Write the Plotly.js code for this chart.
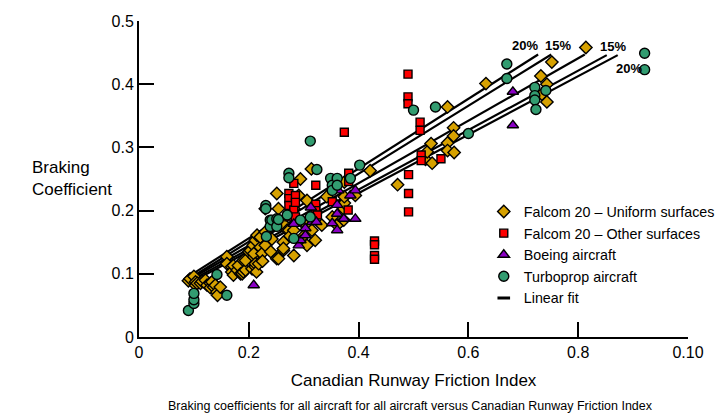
<!DOCTYPE html>
<html>
<head>
<meta charset="utf-8">
<script src="https://cdn.plot.ly/plotly-3.0.1.min.js"></script>
<style>html,body{margin:0;padding:0;background:#fff;}#chart{width:720px;height:414px;}</style>
</head>
<body>
<div id="chart"></div>
<script>
// ---------- data ----------
var xTickVals = [0, 0.2, 0.4, 0.6, 0.8, 1.0];
var xTickText = ['0', '0.2', '0.4', '0.6', '0.8', '0.10'];
var yTickVals = [0, 0.1, 0.2, 0.3, 0.4, 0.5];
var yTickText = ['0', '0.1', '0.2', '0.3', '0.4', '0.5'];

var seriesNames = ['Falcom 20 \u2013 Uniform surfaces', 'Falcom 20 \u2013 Other surfaces', 'Boeing aircraft', 'Turboprop aircraft', 'Linear fit'];

var uniformX = [0.090,0.093,0.100,0.103,0.103,0.106,0.112,0.115,0.121,0.124,0.130,0.130,0.133,0.136,0.139,0.142,0.143,0.148,
  0.160,0.160,0.169,0.169,0.172,0.172,0.179,0.181,0.185,0.188,0.190,0.190,0.194,0.194,0.200,0.203,0.206,0.208,0.209,0.209,0.212,0.212,0.212,0.214,0.215,0.218,0.221,0.221,0.224,0.225,0.230,0.230,0.230,0.240,0.242,
  0.251,0.251,0.254,0.254,0.263,0.263,0.263,0.263,0.270,0.273,0.275,0.282,0.282,0.282,0.291,0.294,0.297,0.300,0.306,0.306,0.306,0.314,0.315,0.321,
  0.333,0.342,0.352,0.361,0.373,0.373,0.374,0.374,0.374,0.394,0.421,0.471,
  0.522,0.525,0.532,0.534,0.562,0.562,0.562,0.573,0.573,0.574,0.632,
  0.732,0.734,0.743,0.743,0.752,0.814];
var uniformY = [0.089,0.092,0.096,0.087,0.082,0.085,0.085,0.088,0.090,0.082,0.085,0.078,0.087,0.079,0.082,0.071,0.066,0.079,
  0.127,0.116,0.111,0.103,0.098,0.113,0.106,0.113,0.100,0.100,0.121,0.103,0.106,0.121,0.135,0.137,0.108,0.145,0.127,0.132,0.153,0.111,0.116,0.103,0.161,0.116,0.142,0.158,0.132,0.120,0.166,0.145,0.203,0.135,0.155,
  0.124,0.227,0.203,0.124,0.137,0.150,0.179,0.140,0.169,0.169,0.160,0.169,0.203,0.129,0.224,0.250,0.182,0.160,0.216,0.177,0.145,0.266,0.169,0.153,
  0.177,0.222,0.190,0.177,0.185,0.203,0.212,0.222,0.245,0.224,0.263,0.241,
  0.281,0.293,0.306,0.275,0.364,0.307,0.295,0.331,0.318,0.292,0.401,
  0.413,0.384,0.400,0.372,0.435,0.458];

var otherX = [0.273,0.273,0.273,0.273,0.282,0.282,0.285,0.285,0.285,0.322,0.322,0.322,0.325,0.352,0.374,0.381,0.382,0.382,0.429,0.429,0.429,0.429,0.490,0.490,0.490,0.491,0.491,0.491,0.512,0.512,0.514,0.514,0.550];
var otherY = [0.227,0.219,0.190,0.208,0.243,0.201,0.224,0.213,0.190,0.240,0.210,0.200,0.193,0.214,0.324,0.201,0.259,0.246,0.152,0.146,0.129,0.123,0.416,0.380,0.369,0.257,0.227,0.198,0.340,0.327,0.288,0.279,0.282];

var boeingX = [0.209,0.282,0.291,0.294,0.303,0.303,0.313,0.315,0.323,0.352,0.361,0.361,0.361,0.363,0.373,0.385,0.394,0.394,0.681,0.681];
var boeingY = [0.082,0.179,0.145,0.153,0.172,0.161,0.205,0.182,0.182,0.180,0.169,0.195,0.209,0.232,0.187,0.224,0.232,0.187,0.388,0.335];

var turboX = [0.090,0.100,0.100,0.100,0.142,0.160,0.231,0.231,0.232,0.239,0.239,0.242,0.251,0.251,0.254,0.270,0.273,0.273,0.282,0.294,0.312,0.312,0.324,0.349,0.352,0.352,0.361,0.361,0.385,0.402,0.500,0.540,0.600,0.670,0.670,0.721,0.721,0.721,0.723,0.741,0.921,0.921];
var turboY = [0.042,0.053,0.059,0.069,0.099,0.066,0.208,0.203,0.159,0.185,0.175,0.185,0.187,0.175,0.186,0.193,0.259,0.252,0.156,0.185,0.190,0.310,0.265,0.251,0.240,0.232,0.251,0.240,0.251,0.272,0.359,0.364,0.322,0.432,0.409,0.395,0.382,0.375,0.360,0.390,0.449,0.423];

// fit line and bands: +20%, +15%, fit, -15%, -20%
var fitLabels = ['20%', '15%', '', '15%', '20%'];
var fitStartX = [0.100, 0.100, 0.100, 0.100, 0.100];
var fitStartY = [0.101, 0.097, 0.095, 0.092, 0.089];
var fitEndX   = [0.727, 0.751, 0.812, 0.852, 0.872];
var fitEndY   = [0.447, 0.447, 0.447, 0.446, 0.446];

// ---------- styling ----------
var FONT = 'Liberation Sans, Arial, sans-serif';
var labelShiftX = [-13, 7, 0, 6, 11];
var labelShiftY = [9, 9, 0, 9, -13];

var traces = [];
for (var i = 0; i < fitStartX.length; i++) {
  traces.push({
    type: 'scatter', mode: 'lines',
    x: [fitStartX[i], fitEndX[i]], y: [fitStartY[i], fitEndY[i]],
    line: {color: '#000', width: 2.2}, showlegend: false, hoverinfo: 'skip'
  });
}
function markerTrace(name, xs, ys, symbol, color, size) {
  return {
    type: 'scatter', mode: 'markers', name: name, x: xs, y: ys,
    marker: {symbol: symbol, color: color, size: size, line: {color: '#000', width: 1.4}}
  };
}
traces.push(markerTrace(seriesNames[0], uniformX, uniformY, 'diamond', '#D6A100', 9.5));
traces.push(markerTrace(seriesNames[1], otherX, otherY, 'square', '#FF0000', 8));
traces.push(markerTrace(seriesNames[2], boeingX, boeingY, 'triangle-up', '#8A00C4', 10));
traces.push(markerTrace(seriesNames[3], turboX, turboY, 'circle', '#329C70', 10));
traces.push({
  type: 'scatter', mode: 'markers', name: seriesNames[4], x: [null], y: [null],
  marker: {symbol: 'line-ew', size: 9, color: '#000', line: {color: '#000', width: 3}}
});

var annotations = [];
for (var j = 0; j < fitLabels.length; j++) {
  if (!fitLabels[j]) continue;
  annotations.push({
    x: fitEndX[j], y: fitEndY[j], xref: 'x', yref: 'y', text: '<b>' + fitLabels[j] + '</b>',
    showarrow: false, xshift: labelShiftX[j], yshift: labelShiftY[j],
    font: {family: FONT, size: 13, color: '#000'}
  });
}
annotations.push({
  xref: 'paper', yref: 'paper', x: -0.1985, y: 0.502, xanchor: 'left', yanchor: 'middle',
  text: 'Braking<br>Coefficient', align: 'left', showarrow: false,
  font: {family: FONT, size: 17, color: '#000'}
});
annotations.push({
  xref: 'paper', yref: 'paper', x: 0.495, y: -0.219, xanchor: 'center', yanchor: 'middle',
  text: 'Braking coefficients for all aircraft for all aircraft versus Canadian Runway Friction Index',
  showarrow: false, font: {family: FONT, size: 12.5, color: '#000'}
});

var axisCommon = {
  showgrid: false, zeroline: false, showline: true, linecolor: '#000', linewidth: 2,
  ticks: 'inside', ticklen: 15, tickwidth: 2, tickcolor: '#000',
  tickfont: {family: FONT, size: 16, color: '#000'}, fixedrange: true, automargin: false
};

var layout = {
  width: 720, height: 414,
  margin: {l: 139, r: 32, t: 21, b: 77, pad: 0, autoexpand: false},
  paper_bgcolor: '#fff', plot_bgcolor: '#fff',
  font: {family: FONT, color: '#000'},
  xaxis: Object.assign({}, axisCommon, {
    range: [0, 1.0], tickmode: 'array', tickvals: xTickVals, ticktext: xTickText,
    title: {text: 'Canadian Runway Friction Index', font: {family: FONT, size: 17, color: '#000'}, standoff: 14}
  }),
  yaxis: Object.assign({}, axisCommon, {
    range: [0, 0.5], tickmode: 'array', tickvals: yTickVals, ticktext: yTickText
  }),
  showlegend: true,
  legend: {
    x: 0.628, y: 0.447, xanchor: 'left', yanchor: 'top', bgcolor: 'rgba(0,0,0,0)',
    font: {family: FONT, size: 14.3, color: '#000'}, itemwidth: 30, tracegroupgap: 0
  },
  annotations: annotations
};

Plotly.newPlot('chart', traces, layout, {displayModeBar: false, staticPlot: true});
</script>
</body>
</html>
